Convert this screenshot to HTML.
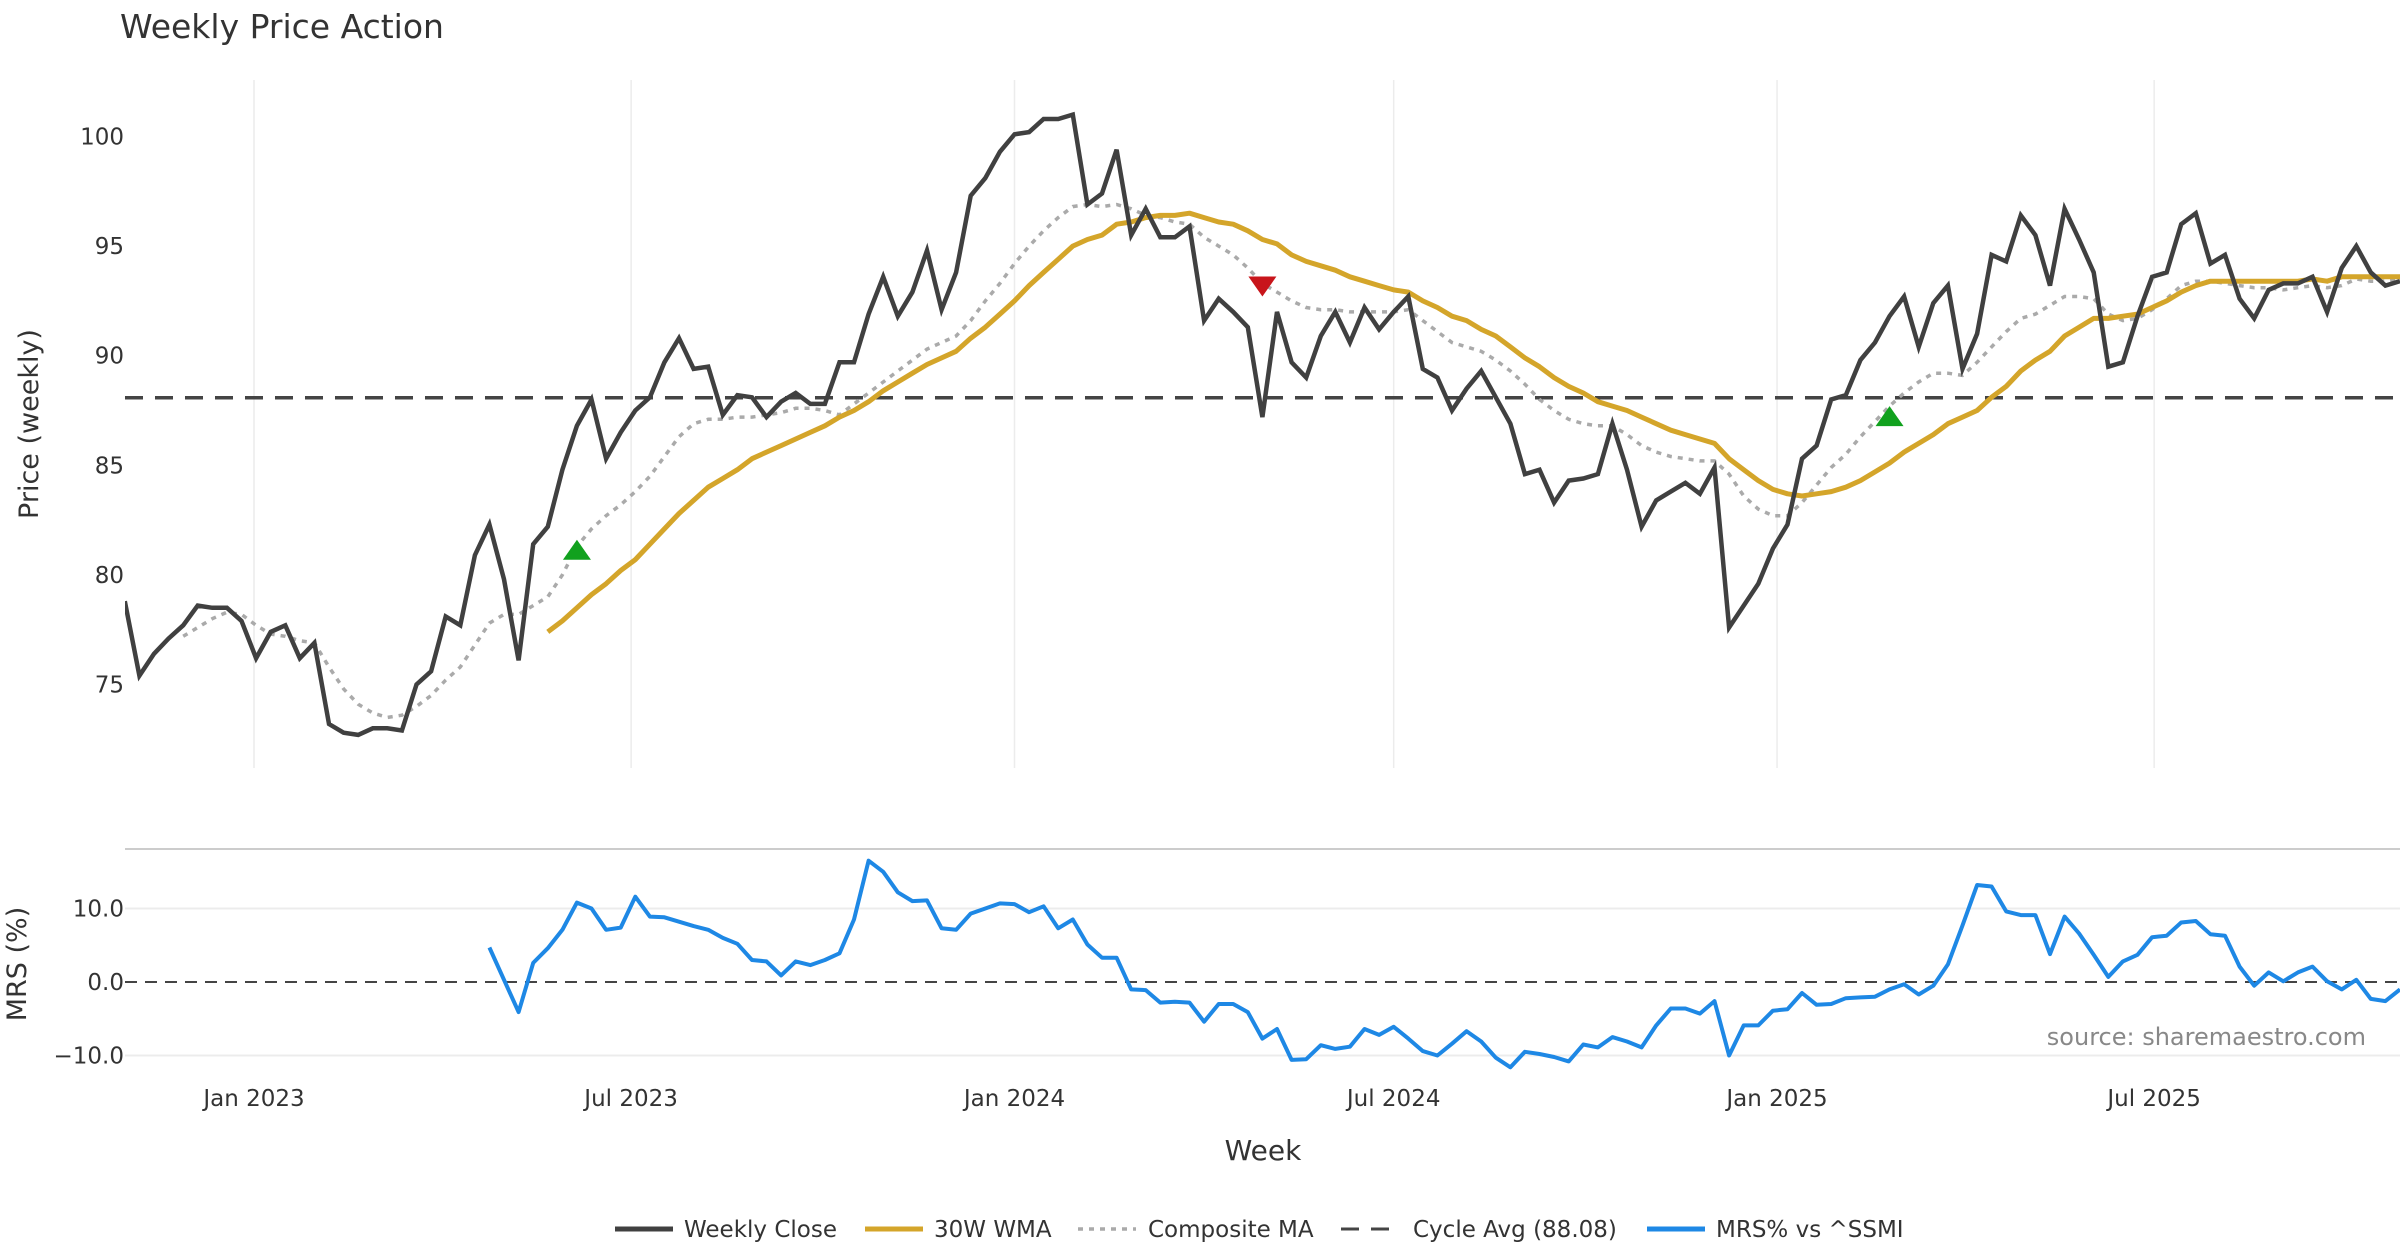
<!DOCTYPE html>
<html><head><meta charset="utf-8">
<style>
html,body{margin:0;padding:0;background:#fff;}
svg{display:block;font-family:"DejaVu Sans","Liberation Sans",sans-serif;}
</style></head>
<body>
<svg id="chart" width="2400" height="1260" viewBox="0 0 2400 1260" xmlns="http://www.w3.org/2000/svg">
<text x="120" y="38" font-size="33" fill="#333">Weekly Price Action</text>
<g id="grid"></g>
<g id="topPanel"></g>
<g id="bottomPanel"></g>
<text transform="translate(38,424) rotate(-90)" text-anchor="middle" font-size="27" fill="#333">Price (weekly)</text>
<text transform="translate(26,964) rotate(-90)" text-anchor="middle" font-size="27" fill="#333">MRS (%)</text>
<text x="1263" y="1160" text-anchor="middle" font-size="28" fill="#333">Week</text>
<text x="2366" y="1045" text-anchor="end" font-size="24" fill="#888">source: sharemaestro.com</text>
<g id="legend"></g>
</svg>
<script>
const startDate = "2022-10-31";
const closeVals = [78.8,75.4,76.4,77.1,77.7,78.6,78.5,78.5,77.9,76.2,77.4,77.7,76.2,76.9,73.2,72.8,72.7,73.0,73.0,72.9,75.0,75.6,78.1,77.7,80.9,82.3,79.8,76.1,81.4,82.2,84.8,86.8,88.0,85.3,86.5,87.5,88.1,89.7,90.8,89.4,89.5,87.3,88.2,88.1,87.2,87.9,88.3,87.8,87.8,89.7,89.7,91.9,93.6,91.8,92.9,94.8,92.1,93.8,97.3,98.1,99.3,100.1,100.2,100.8,100.8,101.0,96.9,97.4,99.4,95.5,96.7,95.4,95.4,95.9,91.6,92.6,92.0,91.3,87.2,92.0,89.7,89.0,90.9,92.0,90.6,92.2,91.2,92.0,92.7,89.4,89.0,87.5,88.5,89.3,88.1,86.9,84.6,84.8,83.3,84.3,84.4,84.6,86.9,84.8,82.2,83.4,83.8,84.2,83.7,84.9,77.6,78.6,79.6,81.2,82.3,85.3,85.9,88.0,88.2,89.8,90.6,91.8,92.7,90.4,92.4,93.2,89.4,91.0,94.6,94.3,96.4,95.5,93.2,96.7,95.3,93.8,89.5,89.7,91.8,93.6,93.8,96.0,96.5,94.2,94.6,92.6,91.7,93.0,93.3,93.3,93.6,92.0,94.0,95.0,93.8,93.2,93.4];
const wmaStart = 29;
const wmaVals = [77.4,77.9,78.5,79.1,79.6,80.2,80.7,81.4,82.1,82.8,83.4,84.0,84.4,84.8,85.3,85.6,85.9,86.2,86.5,86.8,87.2,87.5,87.9,88.4,88.8,89.2,89.6,89.9,90.2,90.8,91.3,91.9,92.5,93.2,93.8,94.4,95.0,95.3,95.5,96.0,96.1,96.3,96.4,96.4,96.5,96.3,96.1,96.0,95.7,95.3,95.1,94.6,94.3,94.1,93.9,93.6,93.4,93.2,93.0,92.9,92.5,92.2,91.8,91.6,91.2,90.9,90.4,89.9,89.5,89.0,88.6,88.3,87.9,87.7,87.5,87.2,86.9,86.6,86.4,86.2,86.0,85.3,84.8,84.3,83.9,83.7,83.6,83.7,83.8,84.0,84.3,84.7,85.1,85.6,86.0,86.4,86.9,87.2,87.5,88.1,88.6,89.3,89.8,90.2,90.9,91.3,91.7,91.7,91.8,91.9,92.2,92.5,92.9,93.2,93.4,93.4,93.4,93.4,93.4,93.4,93.4,93.5,93.4,93.6,93.6,93.6,93.6,93.6];
const compStart = 4;
const compVals = [77.2,77.6,78.0,78.3,78.2,77.7,77.3,77.2,77.0,76.9,75.8,74.8,74.1,73.7,73.5,73.6,74.0,74.5,75.2,75.8,76.8,77.8,78.2,78.2,78.6,79.0,80.0,81.3,82.1,82.7,83.2,83.8,84.5,85.4,86.3,86.9,87.1,87.1,87.2,87.2,87.3,87.4,87.6,87.6,87.5,87.3,87.8,88.3,88.8,89.3,89.8,90.3,90.6,90.9,91.6,92.5,93.3,94.2,95.0,95.7,96.3,96.8,96.9,96.8,96.9,96.7,96.4,96.3,96.1,96.0,95.4,95.0,94.6,94.0,93.3,92.9,92.5,92.2,92.1,92.1,92.0,92.0,92.0,92.0,92.1,91.6,91.1,90.6,90.4,90.2,89.8,89.3,88.7,88.0,87.5,87.1,86.9,86.8,86.8,86.4,85.9,85.6,85.4,85.3,85.2,85.2,84.6,83.6,83.0,82.7,82.7,83.3,84.1,84.9,85.5,86.3,87.0,87.7,88.3,88.8,89.2,89.2,89.1,89.7,90.4,91.1,91.7,91.9,92.3,92.7,92.7,92.6,91.9,91.6,91.7,92.1,92.6,93.2,93.4,93.4,93.3,93.2,93.1,93.1,93.0,93.1,93.2,93.1,93.2,93.5,93.4,93.4,93.5];
const mrsStart = 25;
const mrsVals = [4.7,0.3,-4.1,2.6,4.6,7.1,10.8,10.0,7.1,7.4,11.6,8.9,8.8,8.2,7.6,7.1,6.0,5.2,3.0,2.8,0.9,2.8,2.3,3.0,3.9,8.5,16.5,15.0,12.2,11.0,11.1,7.3,7.1,9.3,10.0,10.7,10.6,9.5,10.3,7.3,8.5,5.1,3.3,3.3,-1.0,-1.1,-2.8,-2.7,-2.8,-5.4,-3.0,-3.0,-4.1,-7.7,-6.4,-10.6,-10.5,-8.6,-9.1,-8.8,-6.4,-7.2,-6.1,-7.7,-9.4,-10.0,-8.4,-6.7,-8.1,-10.3,-11.6,-9.5,-9.8,-10.2,-10.8,-8.5,-8.9,-7.5,-8.1,-8.9,-5.9,-3.6,-3.6,-4.3,-2.6,-10.0,-5.9,-5.9,-3.9,-3.7,-1.5,-3.1,-3.0,-2.2,-2.1,-2.0,-1.0,-0.3,-1.7,-0.5,2.4,7.7,13.2,13.0,9.6,9.1,9.1,3.8,8.9,6.6,3.7,0.7,2.8,3.7,6.1,6.3,8.1,8.3,6.5,6.3,2.1,-0.5,1.3,0.1,1.3,2.1,0.1,-1.0,0.3,-2.3,-2.6,-1.0];
const cycleAvg = 88.08;
const buyIdx = [31, 121];
const buyVals = [81.1, 87.2];
const sellIdx = [78];
const sellVals = [93.2];
const priceTicks = [75,80,85,90,95,100];
const mrsTicks = [10,0,-10];
const mrsTickLabels = ["10.0","0.0","\u221210.0"];
const xTickDates = ["2023-01-01","2023-07-01","2024-01-01","2024-07-01","2025-01-01","2025-07-01"];
const xTickLabels = ["Jan 2023","Jul 2023","Jan 2024","Jul 2024","Jan 2025","Jul 2025"];

(function(){
const NS="http://www.w3.org/2000/svg";
const DAY=86400000, X0=254, PXD=2.0835, REF=Date.UTC(2023,0,1);
function xDate(s){const p=s.split('-');return X0+(Date.UTC(+p[0],+p[1]-1,+p[2])-REF)/DAY*PXD;}
const x0w=xDate(startDate);
function xi(i){return x0w+i*7*PXD;}
function yP(v){return 136.5+(100-v)*21.92;}
function yM(v){return 982-v*7.35;}
function mk(tag,attrs,parent){const e=document.createElementNS(NS,tag);for(const k in attrs)e.setAttribute(k,attrs[k]);parent.appendChild(e);return e;}
const gridG=document.getElementById('grid'),topG=document.getElementById('topPanel'),botG=document.getElementById('bottomPanel'),legG=document.getElementById('legend');

const defs=mk('defs',{},document.getElementById('chart'));
const cp=mk('clipPath',{id:'clipTop'},defs);mk('rect',{x:125,y:70,width:2275,height:700},cp);
const cp2=mk('clipPath',{id:'clipBot'},defs);mk('rect',{x:125,y:850,width:2275,height:230},cp2);
topG.setAttribute('clip-path','url(#clipTop)');botG.setAttribute('clip-path','url(#clipBot)');

xTickDates.forEach((d,k)=>{const x=xDate(d);
 let g=mk('line',{x1:x,x2:x,y1:80,y2:768,stroke:'#ececec','stroke-width':1.5},gridG);
 
 
 let t=mk('text',{x:x,y:1106,'text-anchor':'middle','font-size':23,fill:'#333'},gridG);t.textContent=xTickLabels[k];
 
 
});
priceTicks.forEach(v=>{let t=mk('text',{x:124,y:yP(v)+8,'text-anchor':'end','font-size':23,fill:'#333'},gridG);t.textContent=v;
 
 });
let sep=mk('line',{x1:125,x2:2400,y1:849,y2:849,stroke:'#ccc','stroke-width':2},gridG);


mrsTicks.forEach((v,k)=>{
 if(v!==0){let g=mk('line',{x1:125,x2:2400,y1:yM(v),y2:yM(v),stroke:'#ececec','stroke-width':2},gridG);
  
  }
 let t=mk('text',{x:124,y:yM(v)+8,'text-anchor':'end','font-size':23,fill:'#333'},gridG);t.textContent=mrsTickLabels[k];
 
 
});
let zl=mk('line',{x1:125,x2:2400,y1:yM(0),y2:yM(0),stroke:'#444','stroke-width':2,'stroke-dasharray':'12,8'},gridG);



function path(vals,start,yf){return vals.map((v,k)=>(k?'L':'M')+xi(start+k).toFixed(1)+','+yf(v).toFixed(1)).join('');}
let cyc=mk('line',{x1:125,x2:2400,y1:yP(cycleAvg),y2:yP(cycleAvg),stroke:'#444','stroke-width':3.5,'stroke-dasharray':'18,12'},topG);


let comp=mk('path',{d:path(compVals,compStart,yP),fill:'none',stroke:'#aaa','stroke-width':3.5,'stroke-dasharray':'5,6'},topG);


let wma=mk('path',{d:path(wmaVals,wmaStart,yP),fill:'none',stroke:'#D4A52A','stroke-width':5,'stroke-linejoin':'round'},topG);


let cl=mk('path',{d:path(closeVals,0,yP),fill:'none',stroke:'#404040','stroke-width':4.5,'stroke-linejoin':'miter'},topG);


buyIdx.forEach((i,k)=>{const x=xi(i),y=yP(buyVals[k]);
 let m=mk('polygon',{points:`${x-14},${y+9} ${x+14},${y+9} ${x},${y-11}`,fill:'#11A11E'},topG);
 
 });
sellIdx.forEach((i,k)=>{const x=xi(i),y=yP(sellVals[k]);
 let m=mk('polygon',{points:`${x-14},${y-9} ${x+14},${y-9} ${x},${y+11}`,fill:'#C8151B'},topG);
 
 });
let mrsL=mk('path',{d:path(mrsVals,mrsStart,yM),fill:'none',stroke:'#1E88E5','stroke-width':4,'stroke-linejoin':'round'},botG);



const legY=1229;
function legItem(x1,tx,label,attrs,name){
 let l=mk('line',Object.assign({x1:x1,x2:x1+58,y1:legY,y2:legY},attrs),legG);
 
 
 let t=mk('text',{x:tx,y:legY+8,'font-size':23,fill:'#333'},legG);t.textContent=label;
 
 
}
legItem(615,684,'Weekly Close',{stroke:'#404040','stroke-width':5},'legend-weekly-close');
legItem(865,934,'30W WMA',{stroke:'#D4A52A','stroke-width':5},'legend-wma');
legItem(1078,1148,'Composite MA',{stroke:'#aaa','stroke-width':3.5,'stroke-dasharray':'5,6'},'legend-composite-ma');
legItem(1341,1413,'Cycle Avg (88.08)',{stroke:'#444','stroke-width':3,'stroke-dasharray':'18,12'},'legend-cycle-avg');
legItem(1647,1716,'MRS% vs ^SSMI',{stroke:'#1E88E5','stroke-width':5},'legend-mrs');
})();
</script>
</body></html>
